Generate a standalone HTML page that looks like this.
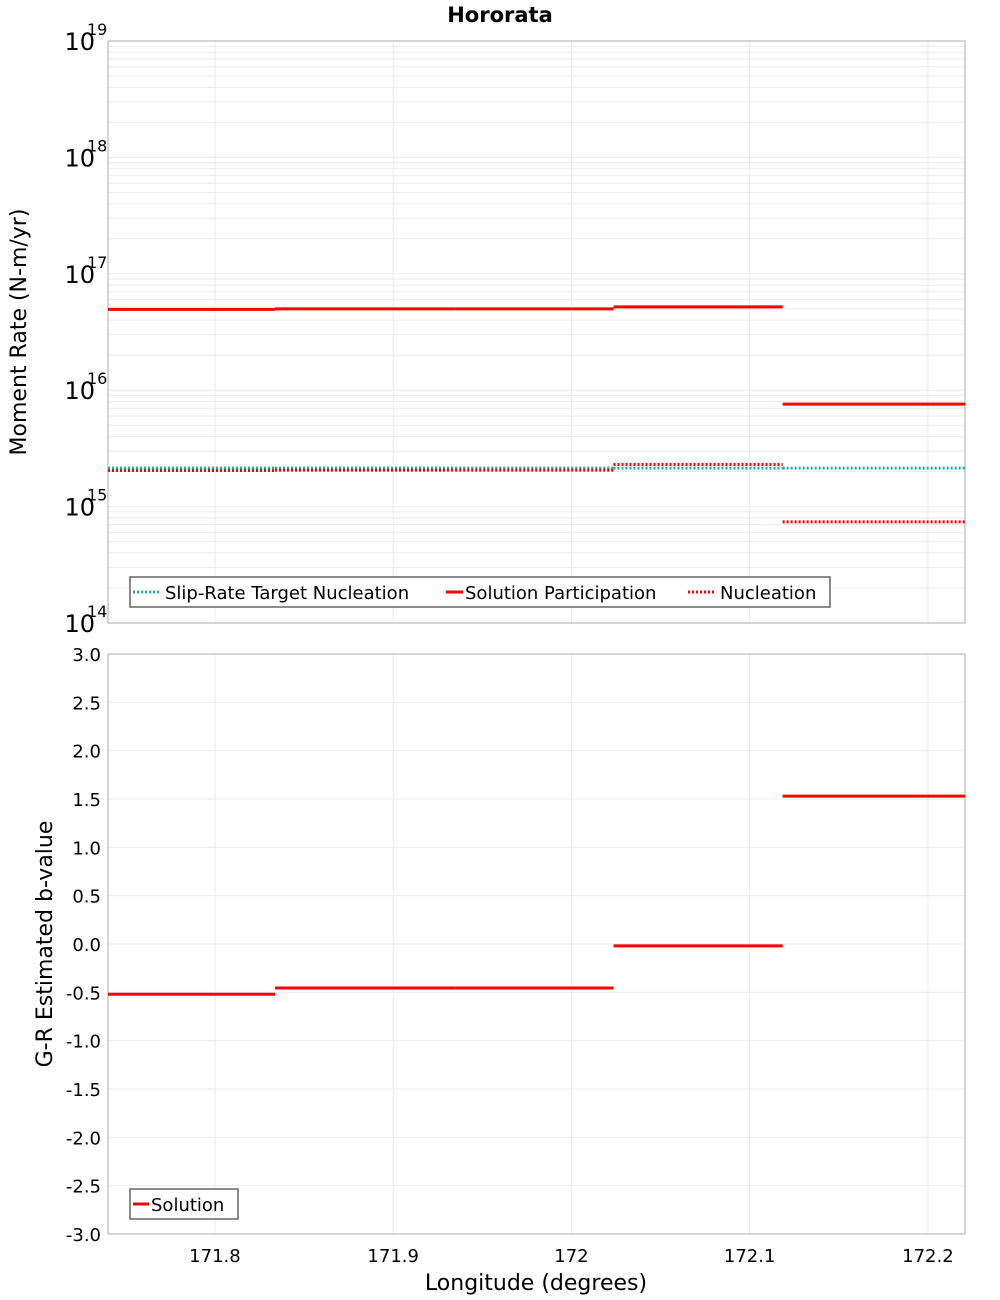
<!DOCTYPE html>
<html><head><meta charset="utf-8"><style>
html,body{margin:0;padding:0;background:#fff}
svg{display:block;font-family:"DejaVu Sans","Liberation Sans",sans-serif}
</style></head><body>
<svg id="chart" width="1000" height="1300" xmlns="http://www.w3.org/2000/svg">
<text x="500" y="22" text-anchor="middle" font-size="21" font-weight="bold">Hororata</text>
<g id="topPlot"></g>
<g id="botPlot"></g>
<text transform="translate(26,332) rotate(-90)" text-anchor="middle" font-size="22">Moment Rate (N-m/yr)</text>
<text transform="translate(52,944) rotate(-90)" text-anchor="middle" font-size="22">G-R Estimated b-value</text>
<text x="536" y="1290" text-anchor="middle" font-size="22">Longitude (degrees)</text>
</svg>
<script>
// data
const segStarts = [171.74, 171.8337, 171.9348, 172.0236, 172.1185];
const segEnds   = [171.8337, 171.9348, 172.0236, 172.1185, 172.2208];
const targetNucleation = [2.14e15, 2.14e15, 2.14e15, 2.14e15, 2.14e15];
const solutionParticipation = [4.95e16, 5.0e16, 5.0e16, 5.2e16, 7.6e15];
const nucleation = [2.04e15, 2.06e15, 2.06e15, 2.3e15, 7.4e14];
const bValues = [-0.52, -0.455, -0.455, -0.02, 1.53];
const xTicks = [171.8, 171.9, 172.0, 172.1, 172.2];
const xTickLabels = ["171.8", "171.9", "172", "172.1", "172.2"];
const logDecades = [14, 15, 16, 17, 18, 19];
const bTicks = [3.0, 2.5, 2.0, 1.5, 1.0, 0.5, 0.0, -0.5, -1.0, -1.5, -2.0, -2.5, -3.0];

const NS = "http://www.w3.org/2000/svg";
const L = 108, R = 965, XMIN = 171.74, XMAX = 172.2208;
const T1 = 41, B1 = 623, T2 = 654, B2 = 1234;
const xs = v => L + (v - XMIN) / (XMAX - XMIN) * (R - L);
const ylog = v => B1 - (Math.log10(v) - 14) / 5 * (B1 - T1);
const yb = v => B2 - (v + 3) / 6 * (B2 - T2);

function mk(parent, tag, attrs, text) {
  const e = document.createElementNS(NS, tag);
  for (const k in attrs) e.setAttribute(k, attrs[k]);
  if (text !== undefined) e.textContent = text;
  parent.appendChild(e);
  return e;
}
const topG = document.getElementById('topPlot');
const botG = document.getElementById('botPlot');

// top grid
for (let d = 14; d < 19; d++) {
  for (let m = 1; m <= 9; m++) {
    const y = ylog(m * Math.pow(10, d));
    const g = mk(topG, 'line', {x1: L, x2: R, y1: y, y2: y, stroke: '#ebebeb', 'stroke-width': 1});
    
    
  }
}
xTicks.forEach((t, i) => {
  const g = mk(topG, 'line', {x1: xs(t), x2: xs(t), y1: T1, y2: B1, stroke: '#ebebeb'});
  
  
  const g2 = mk(botG, 'line', {x1: xs(t), x2: xs(t), y1: T2, y2: B2, stroke: '#ebebeb'});
  
  
  const lb = mk(botG, 'text', {x: xs(t), y: 1262, 'text-anchor': 'middle', 'font-size': 18}, xTickLabels[i]);
  
  
});
logDecades.forEach(d => {
  const y = ylog(Math.pow(10, d));
  const t = mk(topG, 'text', {x: 95, y: y + 9, 'text-anchor': 'end', 'font-size': 24}, '10');
  
  
  const s = mk(topG, 'text', {x: 87, y: y - 6, 'font-size': 16}, String(d));
  
  
});
const f1 = mk(topG, 'rect', {x: L, y: T1, width: R - L, height: B1 - T1, fill: 'none', stroke: '#aaa'});



function seg(parent, vals, yf, color, dash, name, w) {
  vals.forEach((v, i) => {
    const a = {x1: xs(segStarts[i]), x2: xs(segEnds[i]), y1: yf(v), y2: yf(v), stroke: color, 'stroke-width': w};
    if (dash) a['stroke-dasharray'] = dash;
    const l = mk(parent, 'line', a);
    
    
  });
}
seg(topG, targetNucleation, ylog, '#1aafaf', '2,2', 'target-nucleation-segment', 3);
seg(topG, nucleation, ylog, '#ff0000', '2,2', 'nucleation-segment', 3);
seg(topG, solutionParticipation, ylog, '#ff0000', null, 'participation-segment', 3);

// top legend
const lg = mk(topG, 'g', {});


mk(lg, 'rect', {x: 130, y: 577, width: 700, height: 30, fill: '#fff', stroke: '#666', 'stroke-width': 1.5});
mk(lg, 'line', {x1: 133, x2: 161, y1: 592, y2: 592, stroke: '#1aafaf', 'stroke-width': 3, 'stroke-dasharray': '2,2'});
mk(lg, 'text', {x: 165, y: 599, 'font-size': 18}, 'Slip-Rate Target Nucleation');
mk(lg, 'line', {x1: 446, x2: 463, y1: 592, y2: 592, stroke: '#f00', 'stroke-width': 3});
mk(lg, 'text', {x: 465, y: 599, 'font-size': 18}, 'Solution Participation');
mk(lg, 'line', {x1: 688, x2: 716, y1: 592, y2: 592, stroke: '#f00', 'stroke-width': 3, 'stroke-dasharray': '2,2'});
mk(lg, 'text', {x: 720, y: 599, 'font-size': 18}, 'Nucleation');

// bottom
bTicks.forEach(t => {
  const y = yb(t);
  const g = mk(botG, 'line', {x1: L, x2: R, y1: y, y2: y, stroke: '#ebebeb'});
  
  
  const lb = mk(botG, 'text', {x: 101, y: y + 7, 'text-anchor': 'end', 'font-size': 18}, t.toFixed(1));
  
  
});
const f2 = mk(botG, 'rect', {x: L, y: T2, width: R - L, height: B2 - T2, fill: 'none', stroke: '#aaa'});


seg(botG, bValues, yb, '#ff0000', null, 'b-value-segment', 3);
const lg2 = mk(botG, 'g', {});


mk(lg2, 'rect', {x: 130, y: 1189, width: 108, height: 30, fill: '#fff', stroke: '#666', 'stroke-width': 1.5});
mk(lg2, 'line', {x1: 133, x2: 149, y1: 1204, y2: 1204, stroke: '#f00', 'stroke-width': 3});
mk(lg2, 'text', {x: 151, y: 1211, 'font-size': 18}, 'Solution');
</script>
</body></html>
